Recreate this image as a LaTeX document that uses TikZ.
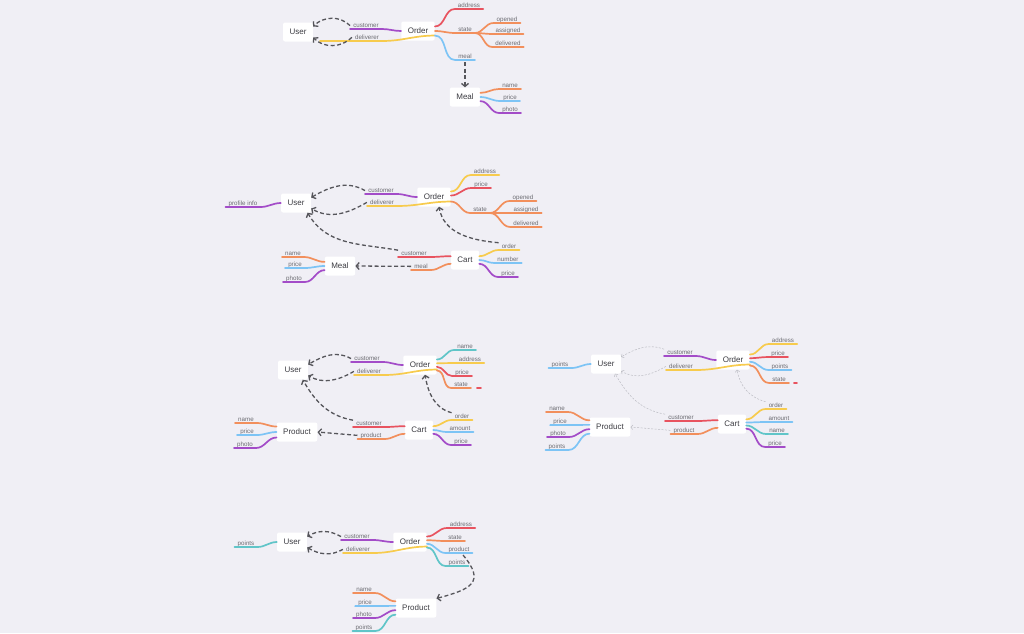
\documentclass[tikz,border=0pt]{standalone}
\usepackage{fontspec}
\setmainfont{Liberation Sans}
\usetikzlibrary{arrows.meta}

\definecolor{bgc}{RGB}{240,239,245}
\definecolor{cPur}{RGB}{163,76,200}
\definecolor{cYel}{RGB}{247,203,77}
\definecolor{cRed}{RGB}{232,83,95}
\definecolor{cOra}{RGB}{242,143,92}
\definecolor{cBlu}{RGB}{125,196,245}
\definecolor{cTea}{RGB}{96,197,200}
\definecolor{dashc}{RGB}{85,85,90}
\definecolor{lightc}{RGB}{188,188,195}
\definecolor{txt}{RGB}{108,108,114}
\definecolor{boxtxt}{RGB}{60,60,66}

\begin{document}
\begin{tikzpicture}[
                    x=1pt, y=1pt,
                    box/.style={
                        fill=white,
                        rounded corners=2pt,
                        minimum height=19pt,
                        inner xsep=6.5pt,
                        text=boxtxt,
                        font=\fontsize{8}{8}\selectfont
                    },
                    lbl/.style={
                        anchor=south,
                        inner xsep=3pt,
                        inner ysep=1.2pt,
                        text depth=0pt,
                        text=txt,
                        font=\fontsize{6.2}{6.2}\selectfont
                    },
                    br/.style={line width=1.7pt, line cap=round},
                    rt/.style={out=0, in=180},
                    lt/.style={out=180, in=0},
                    dep/.style={
                        draw=dashc,
                        line width=1.3pt,
                        dash pattern=on 4pt off 2.5pt,
                        -{Straight Barb[length=3pt,width=7pt]}
                    },
                    dim/.style={
                        draw=lightc,
                        line width=0.5pt,
                        dash pattern=on 2pt off 1.5pt,
                        -{Straight Barb[length=2pt,width=4.5pt]}
                    }
                ]
                    \fill[bgc] (0,0) rectangle (1024,-633);
                    \useasboundingbox (0,0) rectangle (1024,-633);

                    % first map
                    \node[box] (u1) at (298,-32) {User};
                    \node[box] (o1) at (418,-31) {Order};
                    \node[box] (m1) at (465,-97) {Meal};
                    \node[lbl] (o1cust) at (366,-29) {customer};
                    \node[lbl] (o1deli) at (367,-41) {deliverer};
                    \node[lbl] (o1addr) at (469,-9) {address};
                    \node[lbl] (o1state) at (465,-33) {state};
                    \node[lbl] (o1meal) at (465,-60) {meal};
                    \node[lbl] (o1open) at (507,-23) {opened};
                    \node[lbl] (o1assi) at (508,-34) {assigned};
                    \node[lbl] (o1deliv) at (508,-47) {delivered};
                    \node[lbl] (m1name) at (510,-89) {name};
                    \node[lbl] (m1price) at (510,-101) {price};
                    \node[lbl] (m1photo) at (510,-113) {photo};

                    % Edges
                    \draw[br, cPur] (o1.west) to[lt] (o1cust.south east) -- (o1cust.south west);
                    \draw[br, cYel] (o1.-15) to[lt] (o1deli.south east) -- (o1deli.south west) -- +(-32,0);
                    \draw[br, cRed] (o1.15) to[rt] (o1addr.south west) -- (o1addr.south east);
                    \draw[br, cOra] (o1.0) to[rt] (o1state.south west) -- (o1state.south east);
                    \draw[br, cBlu] (o1.-15) to[rt] (o1meal.south west) -- (o1meal.south east);
                    \draw[br, cOra] (o1state.south east) to[rt] (o1open.south west) -- (o1open.south east);
                    \draw[br, cOra] (o1state.south east) to[rt] (o1assi.south west) -- (o1assi.south east);
                    \draw[br, cOra] (o1state.south east) to[rt] (o1deliv.south west) -- (o1deliv.south east);
                    \draw[br, cOra] (m1.15) to[rt] (m1name.south west) -- (m1name.south east);
                    \draw[br, cBlu] (m1.0) to[rt] (m1price.south west) -- (m1price.south east);
                    \draw[br, cPur] (m1.-15) to[rt] (m1photo.south west) -- (m1photo.south east);
                    \draw[dep] (o1cust.west) to[out=135, in=45] (u1.20);
                    \draw[dep] (o1deli.west) to[out=-135, in=-45] (u1.-20);
                    \draw[dep] ([yshift=-2pt]o1meal.south) -- (m1.north);

                    % second map
                    \node[box] (u2) at (296,-203) {User};
                    \node[box] (o2) at (434,-197) {Order};
                    \node[box] (c2) at (465,-260) {Cart};
                    \node[box] (m2) at (340,-266) {Meal};
                    \node[lbl] (u2prof) at (243,-207) {profile info};
                    \node[lbl] (o2cust) at (381,-194) {customer};
                    \node[lbl] (o2deli) at (382,-206) {deliverer};
                    \node[lbl] (o2addr) at (485,-175) {address};
                    \node[lbl] (o2price) at (481,-188) {price};
                    \node[lbl] (o2state) at (480,-213) {state};
                    \node[lbl] (o2open) at (523,-201) {opened};
                    \node[lbl] (o2assi) at (526,-213) {assigned};
                    \node[lbl] (o2deliv) at (526,-227) {delivered};
                    \node[lbl] (c2order) at (509,-250) {order};
                    \node[lbl] (c2num) at (508,-263) {number};
                    \node[lbl] (c2price) at (508,-277) {price};
                    \node[lbl] (c2cust) at (414,-257) {customer};
                    \node[lbl] (c2meal) at (421,-270) {meal};
                    \node[lbl] (m2name) at (293,-257) {name};
                    \node[lbl] (m2price) at (295,-268) {price};
                    \node[lbl] (m2photo) at (294,-282) {photo};

                    % Edges
                    \draw[br, cPur] (u2.west) to[lt] (u2prof.south east) -- (u2prof.south west);
                    \draw[br, cPur] (o2.west) to[lt] (o2cust.south east) -- (o2cust.south west);
                    \draw[br, cYel] (o2.-15) to[lt] (o2deli.south east) -- (o2deli.south west);
                    \draw[br, cYel] (o2.18) to[rt] (o2addr.south west) -- (o2addr.south east);
                    \draw[br, cRed] (o2.5) to[rt] (o2price.south west) -- (o2price.south east);
                    \draw[br, cOra] (o2.-15) to[rt] (o2state.south west) -- (o2state.south east);
                    \draw[br, cOra] (o2state.south east) to[rt] (o2open.south west) -- (o2open.south east);
                    \draw[br, cOra] (o2state.south east) to[rt] (o2assi.south west) -- (o2assi.south east);
                    \draw[br, cOra] (o2state.south east) to[rt] (o2deliv.south west) -- (o2deliv.south east);
                    \draw[br, cYel] (c2.15) to[rt] (c2order.south west) -- (c2order.south east);
                    \draw[br, cBlu] (c2.0) to[rt] (c2num.south west) -- (c2num.south east);
                    \draw[br, cPur] (c2.-15) to[rt] (c2price.south west) -- (c2price.south east);
                    \draw[br, cRed] (c2.165) to[lt] (c2cust.south east) -- (c2cust.south west);
                    \draw[br, cOra] (c2.-165) to[lt] (c2meal.south east) -- (c2meal.south west);
                    \draw[br, cOra] (m2.165) to[lt] (m2name.south east) -- (m2name.south west);
                    \draw[br, cBlu] (m2.180) to[lt] (m2price.south east) -- (m2price.south west);
                    \draw[br, cPur] (m2.-165) to[lt] (m2photo.south east) -- (m2photo.south west);
                    \draw[dep] (o2cust.west) to[out=150, in=30] (u2.20);
                    \draw[dep] (o2deli.west) to[out=-150, in=-30] (u2.-20);
                    \draw[dep] (c2order.north west) to[out=175, in=-80] ([xshift=5pt]o2.south);
                    \draw[dep] (c2cust.north west) to[out=170, in=-60] (u2.-40);
                    \draw[dep] (c2meal.west) -- (m2.east);

                    % third map
                    \node[box] (u3) at (293,-370) {User};
                    \node[box] (o3) at (420,-365) {Order};
                    \node[box] (c3) at (419,-430) {Cart};
                    \node[box] (p3) at (297,-432) {Product};
                    \node[lbl] (o3cust) at (367,-362) {customer};
                    \node[lbl] (o3deli) at (369,-375) {deliverer};
                    \node[lbl] (o3name) at (465,-350) {name};
                    \node[lbl] (o3addr) at (470,-363) {address};
                    \node[lbl] (o3price) at (462,-376) {price};
                    \node[lbl] (o3state) at (461,-388) {state};
                    \node[lbl] (c3order) at (462,-420) {order};
                    \node[lbl] (c3amount) at (460,-432) {amount};
                    \node[lbl] (c3price) at (461,-445) {price};
                    \node[lbl] (c3cust) at (369,-427) {customer};
                    \node[lbl] (c3prod) at (371,-439) {product};
                    \node[lbl] (p3name) at (246,-423) {name};
                    \node[lbl] (p3price) at (247,-435) {price};
                    \node[lbl] (p3photo) at (245,-448) {photo};

                    % Edges
                    \draw[br, cPur] (o3.west) to[lt] (o3cust.south east) -- (o3cust.south west);
                    \draw[br, cYel] (o3.-15) to[lt] (o3deli.south east) -- (o3deli.south west);
                    \draw[br, cTea] (o3.18) to[rt] (o3name.south west) -- (o3name.south east);
                    \draw[br, cYel] (o3.6) to[rt] (o3addr.south west) -- (o3addr.south east);
                    \draw[br, cRed] (o3.-6) to[rt] (o3price.south west) -- (o3price.south east);
                    \draw[br, cOra] (o3.-18) to[rt] (o3state.south west) -- (o3state.south east);
                    \draw[br, cRed] ([xshift=6pt]o3state.south east) -- +(4,0);
                    \draw[br, cYel] (c3.15) to[rt] (c3order.south west) -- (c3order.south east);
                    \draw[br, cBlu] (c3.0) to[rt] (c3amount.south west) -- (c3amount.south east);
                    \draw[br, cPur] (c3.-15) to[rt] (c3price.south west) -- (c3price.south east);
                    \draw[br, cRed] (c3.165) to[lt] (c3cust.south east) -- (c3cust.south west);
                    \draw[br, cOra] (c3.-165) to[lt] (c3prod.south east) -- (c3prod.south west);
                    \draw[br, cOra] (p3.165) to[lt] (p3name.south east) -- (p3name.south west);
                    \draw[br, cBlu] (p3.180) to[lt] (p3price.south east) -- (p3price.south west);
                    \draw[br, cPur] (p3.-165) to[lt] (p3photo.south east) -- (p3photo.south west);
                    \draw[dep] (o3cust.west) to[out=150, in=30] (u3.20);
                    \draw[dep] (o3deli.west) to[out=-150, in=-30] (u3.-20);
                    \draw[dep] (c3order.north west) to[out=165, in=-80] ([xshift=5pt]o3.south);
                    \draw[dep] (c3cust.north west) to[out=170, in=-60] (u3.-45);
                    \draw[dep] (c3prod.west) -- (p3.east);

                    % fourth map
                    \node[box] (u4) at (606,-364) {User};
                    \node[box] (o4) at (733,-360) {Order};
                    \node[box] (c4) at (732,-424) {Cart};
                    \node[box] (p4) at (610,-427) {Product};
                    \node[lbl] (u4pts) at (560,-368) {points};
                    \node[lbl] (o4cust) at (680,-356) {customer};
                    \node[lbl] (o4deli) at (681,-370) {deliverer};
                    \node[lbl] (o4addr) at (783,-344) {address};
                    \node[lbl] (o4price) at (778,-357) {price};
                    \node[lbl] (o4pts) at (780,-370) {points};
                    \node[lbl] (o4state) at (779,-383) {state};
                    \node[lbl] (c4order) at (776,-409) {order};
                    \node[lbl] (c4amount) at (779,-422) {amount};
                    \node[lbl] (c4name) at (777,-434) {name};
                    \node[lbl] (c4price) at (775,-447) {price};
                    \node[lbl] (c4cust) at (681,-421) {customer};
                    \node[lbl] (c4prod) at (684,-434) {product};
                    \node[lbl] (p4name) at (557,-412) {name};
                    \node[lbl] (p4price) at (560,-425) {price};
                    \node[lbl] (p4photo) at (558,-437) {photo};
                    \node[lbl] (p4pts) at (557,-450) {points};

                    % Edges
                    \draw[br, cBlu] (u4.west) to[lt] (u4pts.south east) -- (u4pts.south west);
                    \draw[br, cPur] (o4.west) to[lt] (o4cust.south east) -- (o4cust.south west);
                    \draw[br, cYel] (o4.-15) to[lt] (o4deli.south east) -- (o4deli.south west);
                    \draw[br, cYel] (o4.18) to[rt] (o4addr.south west) -- (o4addr.south east);
                    \draw[br, cRed] (o4.6) to[rt] (o4price.south west) -- (o4price.south east);
                    \draw[br, cBlu] (o4.-6) to[rt] (o4pts.south west) -- (o4pts.south east);
                    \draw[br, cOra] (o4.-18) to[rt] (o4state.south west) -- (o4state.south east);
                    \draw[br, cRed] ([xshift=5pt]o4state.south east) -- +(3,0);
                    \draw[br, cYel] (c4.18) to[rt] (c4order.south west) -- (c4order.south east);
                    \draw[br, cBlu] (c4.6) to[rt] (c4amount.south west) -- (c4amount.south east);
                    \draw[br, cTea] (c4.-6) to[rt] (c4name.south west) -- (c4name.south east);
                    \draw[br, cPur] (c4.-18) to[rt] (c4price.south west) -- (c4price.south east);
                    \draw[br, cRed] (c4.165) to[lt] (c4cust.south east) -- (c4cust.south west);
                    \draw[br, cOra] (c4.-165) to[lt] (c4prod.south east) -- (c4prod.south west);
                    \draw[br, cOra] (p4.162) to[lt] (p4name.south east) -- (p4name.south west);
                    \draw[br, cBlu] (p4.174) to[lt] (p4price.south east) -- (p4price.south west);
                    \draw[br, cPur] (p4.-174) to[lt] (p4photo.south east) -- (p4photo.south west);
                    \draw[br, cBlu] (p4.-162) to[lt] (p4pts.south east) -- (p4pts.south west);
                    \draw[dim] (o4cust.north west) to[out=160, in=30] (u4.25);
                    \draw[dim] (o4deli.west) to[out=-150, in=-30] (u4.-25);
                    \draw[dim] (c4order.north west) to[out=165, in=-80] ([xshift=4pt]o4.south);
                    \draw[dim] (c4cust.north west) to[out=170, in=-60] (u4.-47);
                    \draw[dim] (c4prod.west) -- (p4.east);

                    % fifth map
                    \node[box] (u5) at (292,-542) {User};
                    \node[box] (o5) at (410,-542) {Order};
                    \node[box] (p5) at (416,-608) {Product};
                    \node[lbl] (u5pts) at (246,-547) {points};
                    \node[lbl] (o5cust) at (357,-540) {customer};
                    \node[lbl] (o5deli) at (358,-553) {deliverer};
                    \node[lbl] (o5addr) at (461,-528) {address};
                    \node[lbl] (o5state) at (455,-541) {state};
                    \node[lbl] (o5prod) at (459,-553) {product};
                    \node[lbl] (o5pts) at (457,-566) {points};
                    \node[lbl] (p5name) at (364,-593) {name};
                    \node[lbl] (p5price) at (365,-606) {price};
                    \node[lbl] (p5photo) at (364,-618) {photo};
                    \node[lbl] (p5pts) at (364,-631) {points};

                    % Edges
                    \draw[br, cTea] (u5.west) to[lt] (u5pts.south east) -- (u5pts.south west);
                    \draw[br, cPur] (o5.west) to[lt] (o5cust.south east) -- (o5cust.south west);
                    \draw[br, cYel] (o5.-15) to[lt] (o5deli.south east) -- (o5deli.south west);
                    \draw[br, cRed] (o5.18) to[rt] (o5addr.south west) -- (o5addr.south east);
                    \draw[br, cOra] (o5.6) to[rt] (o5state.south west) -- (o5state.south east);
                    \draw[br, cBlu] (o5.-6) to[rt] (o5prod.south west) -- (o5prod.south east);
                    \draw[br, cTea] (o5.-18) to[rt] (o5pts.south west) -- (o5pts.south east);
                    \draw[br, cOra] (p5.162) to[lt] (p5name.south east) -- (p5name.south west);
                    \draw[br, cBlu] (p5.174) to[lt] (p5price.south east) -- (p5price.south west);
                    \draw[br, cPur] (p5.-174) to[lt] (p5photo.south east) -- (p5photo.south west);
                    \draw[br, cTea] (p5.-162) to[lt] (p5pts.south east) -- (p5pts.south west);
                    \draw[dep] (o5cust.west) to[out=150, in=30] (u5.20);
                    \draw[dep] (o5deli.west) to[out=-150, in=-30] (u5.-20);
                    \draw[dep] ([xshift=4pt,yshift=-2pt]o5prod.south) to[out=-50, in=15, looseness=1.8] (p5.25);
                \end{tikzpicture}
\end{document}
